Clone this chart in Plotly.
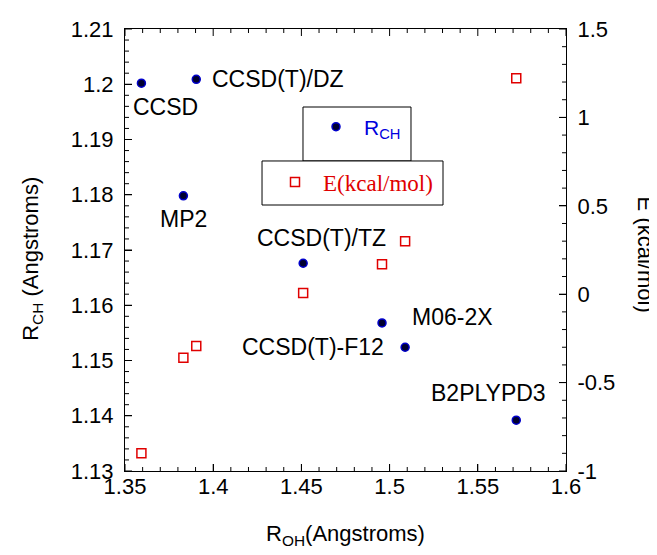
import plotly.graph_objects as go

# ---- data ----
methods = ["CCSD", "CCSD(T)/DZ", "MP2", "CCSD(T)/TZ", "M06-2X", "CCSD(T)-F12", "B2PLYPD3"]
r_oh = [1.3593, 1.3904, 1.3831, 1.4510, 1.4957, 1.5088, 1.5718]
r_ch = [1.2002, 1.2009, 1.1798, 1.1676, 1.1568, 1.1524, 1.1392]
energy = [-0.900, -0.293, -0.359, 0.007, 0.169, 0.299, 1.221]

x_tickvals = [1.35, 1.4, 1.45, 1.5, 1.55, 1.6]
x_ticktext = ["1.35", "1.4", "1.45", "1.5", "1.55", "1.6"]
y_tickvals = [1.13, 1.14, 1.15, 1.16, 1.17, 1.18, 1.19, 1.2, 1.21]
y_ticktext = ["1.13", "1.14", "1.15", "1.16", "1.17", "1.18", "1.19", "1.2", "1.21"]
e_tickvals = [-1, -0.5, 0, 0.5, 1, 1.5]
e_ticktext = ["-1", "-0.5", "0", "0.5", "1", "1.5"]

# axis ranges and minor tick steps
x_range = [1.35, 1.6]
y_range = [1.13, 1.21]
e_range = [-1, 1.5]
x_minor_step, y_minor_step, e_minor_step = 0.01, 0.002, 0.1

# label placement (pixel offsets relative to each point)
label_xshift = [24, 14, 0, 18, 28, -19, -28]
label_yshift = [-24, 0, -23, 25, 6, 0, 27]
label_xanchor = ["center", "left", "center", "center", "left", "right", "center"]

FONT = "Liberation Sans, Arial, Helvetica, sans-serif"
SERIF = "Liberation Serif, Times New Roman, serif"
MAJ, MIN = 7, 4

fig = go.Figure()
fig.add_trace(go.Scatter(
    x=r_oh, y=r_ch, mode="markers", name="R<sub>CH</sub>",
    marker=dict(symbol="circle", size=8, color="#000030",
                line=dict(color="#0000cc", width=1.5)),
    legend="legend", yaxis="y",
))
fig.add_trace(go.Scatter(
    x=r_oh, y=energy, mode="markers", name="E(kcal/mol)",
    marker=dict(symbol="square-open", size=9, color="#e00000",
                line=dict(color="#e00000", width=1.5)),
    legend="legend2", yaxis="y2",
))

for m, xv, yv, dx, dy, xa in zip(methods, r_oh, r_ch, label_xshift, label_yshift, label_xanchor):
    fig.add_annotation(x=xv, y=yv, xref="x", yref="y", text=m, showarrow=False,
                       xanchor=xa, yanchor="middle", xshift=dx, yshift=dy,
                       font=dict(family=FONT, size=23, color="black"))

# axis titles
fig.add_annotation(x=-0.211, y=0.48, xref="paper", yref="paper", text="R<sub>CH</sub> (Angstroms)",
                   showarrow=False, textangle=-90, xanchor="center", yanchor="middle",
                   font=dict(family=FONT, size=22, color="black"))
fig.add_annotation(x=1.181, y=0.49, xref="paper", yref="paper", text="E (kcal/mol)",
                   showarrow=False, textangle=90, xanchor="center", yanchor="middle",
                   font=dict(family=FONT, size=22, color="black"))

# legend frames
fig.add_shape(type="rect", xref="paper", yref="paper", x0=0.4036, x1=0.6485, y0=0.7014, y1=0.8235,
              line=dict(color="black", width=1), fillcolor="white", layer="below")
fig.add_shape(type="rect", xref="paper", yref="paper", x0=0.3107, x1=0.7211, y0=0.6018, y1=0.7014,
              line=dict(color="black", width=1), fillcolor="white", layer="below")


# tick marks drawn along the frame from the axis ranges
def steps(lo, hi, step):
    n = int(round((hi - lo) / step))
    return [round(lo + i * step, 6) for i in range(n + 1)]


def is_major(v, majors):
    return any(abs(v - t) < 1e-9 for t in majors)


tick_line = dict(color="black", width=1)
for v in steps(x_range[0], x_range[1], x_minor_step):
    ln = MAJ if is_major(v, x_tickvals) else MIN
    for anchor, sgn in ((0, 1), (1, -1)):
        fig.add_shape(type="line", xref="x", yref="paper", x0=v, x1=v,
                      ysizemode="pixel", yanchor=anchor, y0=0, y1=sgn * ln, line=tick_line)
for v in steps(y_range[0], y_range[1], y_minor_step):
    ln = MAJ if is_major(v, y_tickvals) else MIN
    fig.add_shape(type="line", xref="paper", yref="y", y0=v, y1=v,
                  xsizemode="pixel", xanchor=0, x0=0, x1=ln, line=tick_line)
for v in steps(e_range[0], e_range[1], e_minor_step):
    ln = MAJ if is_major(v, e_tickvals) else MIN
    fig.add_shape(type="line", xref="paper", yref="y2", y0=v, y1=v,
                  xsizemode="pixel", xanchor=1, x0=0, x1=-ln, line=tick_line)

common = dict(showgrid=False, zeroline=False, showline=True, linecolor="black", linewidth=1,
              ticks="inside", ticklen=MAJ, tickwidth=1, tickcolor="black", automargin=False,
              tickfont=dict(family=FONT, size=22, color="black"))

fig.update_layout(
    width=649, height=547,
    margin=dict(l=117, r=91, t=21, b=84),
    paper_bgcolor="white", plot_bgcolor="rgba(0,0,0,0)",
    font=dict(family=FONT, color="black"),
    xaxis=dict(range=x_range, tickvals=x_tickvals, ticktext=x_ticktext, mirror=True,
               ticklabelstandoff=-4,
               title=dict(text="R<sub>OH</sub>(Angstroms)", font=dict(family=FONT, size=22), standoff=27),
               **common),
    yaxis=dict(range=y_range, tickvals=y_tickvals, ticktext=y_ticktext,
               ticklabelstandoff=6,
               **common),
    yaxis2=dict(range=e_range, tickvals=e_tickvals, ticktext=e_ticktext, overlaying="y",
                side="right", anchor="x",
                ticklabelstandoff=6,
                **common),
    legend=dict(x=0.415, y=0.7783, xanchor="left", yanchor="middle", itemwidth=46,
                borderwidth=0, bgcolor="rgba(0,0,0,0)",
                font=dict(family=FONT, size=21, color="#0000dd")),
    legend2=dict(x=0.322, y=0.6538, xanchor="left", yanchor="middle", itemwidth=46,
                 borderwidth=0, bgcolor="rgba(0,0,0,0)",
                 font=dict(family=SERIF, size=23, color="#e00000")),
    showlegend=True,
)

fig.write_html("out.html")
